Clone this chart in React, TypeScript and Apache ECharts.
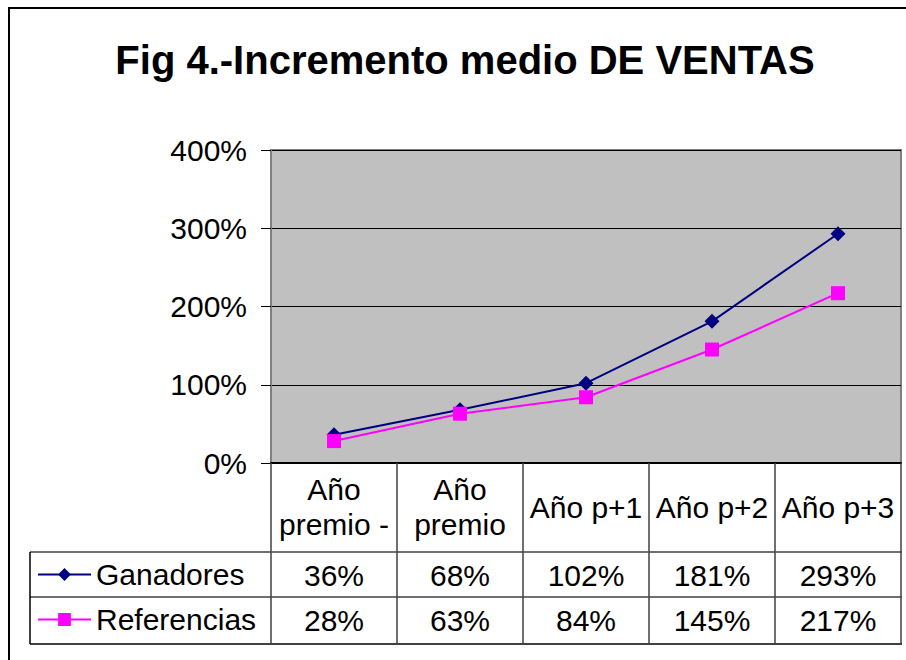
import React, { useEffect, useRef } from "react";
import * as echarts from "echarts";

const categories: string[] = ["Año\npremio -", "Año\npremio", "Año p+1", "Año p+2", "Año p+3"];
const ganadores: number[] = [36, 68, 102, 181, 293];
const referencias: number[] = [28, 63, 84, 145, 217];
const seriesNames: string[] = ["Ganadores", "Referencias"];
const yTicks: number[] = [0, 100, 200, 300, 400];
const titleText = "Fig 4.-Incremento medio DE VENTAS";

const FONT = "'Liberation Sans', Arial, sans-serif";
const FS = 30;

export default function App() {
  const ref = useRef<HTMLDivElement>(null);
  useEffect(() => {
    if (!ref.current) return;
    const chart = echarts.init(ref.current, undefined, { renderer: "svg" });
    const valueAxisCommon = (rows: number[], margin: number) => ({
      type: "category" as const,
      data: categories,
      position: "bottom" as const,
      gridIndex: 0,
      boundaryGap: true,
      axisLine: { show: false },
      axisTick: { show: false },
      splitLine: { show: false },
      axisLabel: {
        interval: 0,
        margin,
        verticalAlign: "middle" as const,
        fontSize: FS,
        fontFamily: FONT,
        color: "#000",
        formatter: (_v: string, i: number) => `${rows[i]}%`,
      },
    });
    chart.setOption({
      animation: false,
      backgroundColor: "#fff",
      textStyle: { fontFamily: FONT },
      title: {
        text: titleText,
        left: 460,
        textAlign: "center",
        top: 35,
        textStyle: { fontSize: 40, fontWeight: "bold", color: "#000", fontFamily: FONT },
      },
      legend: {
        orient: "vertical",
        left: 37,
        top: 552,
        padding: 0,
        itemGap: 0,
        itemWidth: 53,
        itemHeight: 16,
        data: seriesNames,
        textStyle: { fontSize: FS, lineHeight: 45, color: "#000", fontFamily: FONT },
      },
      grid: {
        left: 271,
        right: 5,
        top: 150,
        bottom: 197,
        show: true,
        backgroundColor: "#c0c0c0",
        borderColor: "#808080",
        borderWidth: 2,
      },
      xAxis: [
        {
          type: "category",
          data: categories,
          position: "bottom",
          boundaryGap: true,
          axisLine: { show: true, lineStyle: { color: "#000", width: 2 } },
          axisTick: {
            show: true,
            inside: false,
            length: 181,
            interval: 0,
            lineStyle: { color: "#404040", width: 1.5 },
          },
          splitLine: { show: false },
          axisLabel: {
            interval: 0,
            margin: 44,
            verticalAlign: "middle",
            lineHeight: 35,
            fontSize: FS,
            fontFamily: FONT,
            color: "#000",
          },
        },
        valueAxisCommon(ganadores, 112),
        valueAxisCommon(referencias, 157),
      ],
      yAxis: {
        type: "value",
        min: yTicks[0],
        max: yTicks[yTicks.length - 1],
        interval: 100,
        axisLine: { show: true, lineStyle: { color: "#808080", width: 2 } },
        axisTick: { show: true, length: 10, lineStyle: { color: "#000", width: 1 } },
        splitLine: { show: true, lineStyle: { color: "#000", width: 1 } },
        axisLabel: {
          margin: 24,
          fontSize: FS,
          fontFamily: FONT,
          color: "#000",
          formatter: (v: number) => `${v}%`,
        },
      },
      series: [
        {
          name: seriesNames[0],
          type: "line",
          data: ganadores,
          symbol: "diamond",
          symbolSize: 15,
          color: "#000080",
          lineStyle: { color: "#000080", width: 2 },
          itemStyle: { color: "#000080" },
        },
        {
          name: seriesNames[1],
          type: "line",
          data: referencias,
          symbol: "rect",
          symbolSize: 14,
          color: "#ff00ff",
          lineStyle: { color: "#ff00ff", width: 2 },
          itemStyle: { color: "#ff00ff" },
        },
      ],
      graphic: [
        {
          type: "rect",
          shape: { x: 9, y: 8, width: 1000, height: 1000 },
          style: { fill: "none", stroke: "#000", lineWidth: 2 },
          silent: true,
        },
        { type: "line", shape: { x1: 30, y1: 552, x2: 902, y2: 552 }, style: { stroke: "#404040", lineWidth: 1.5 } },
        { type: "line", shape: { x1: 30, y1: 597, x2: 902, y2: 597 }, style: { stroke: "#404040", lineWidth: 1.5 } },
        { type: "line", shape: { x1: 30, y1: 644, x2: 902, y2: 644 }, style: { stroke: "#000", lineWidth: 1.5 } },
        { type: "line", shape: { x1: 30, y1: 552, x2: 30, y2: 644 }, style: { stroke: "#000", lineWidth: 1.5 } },
      ],
    });
    return () => chart.dispose();
  }, []);
  return (
    <div
      ref={ref}
      style={{ position: "fixed", left: 0, top: 0, width: 906, height: 660 }}
    />
  );
}
